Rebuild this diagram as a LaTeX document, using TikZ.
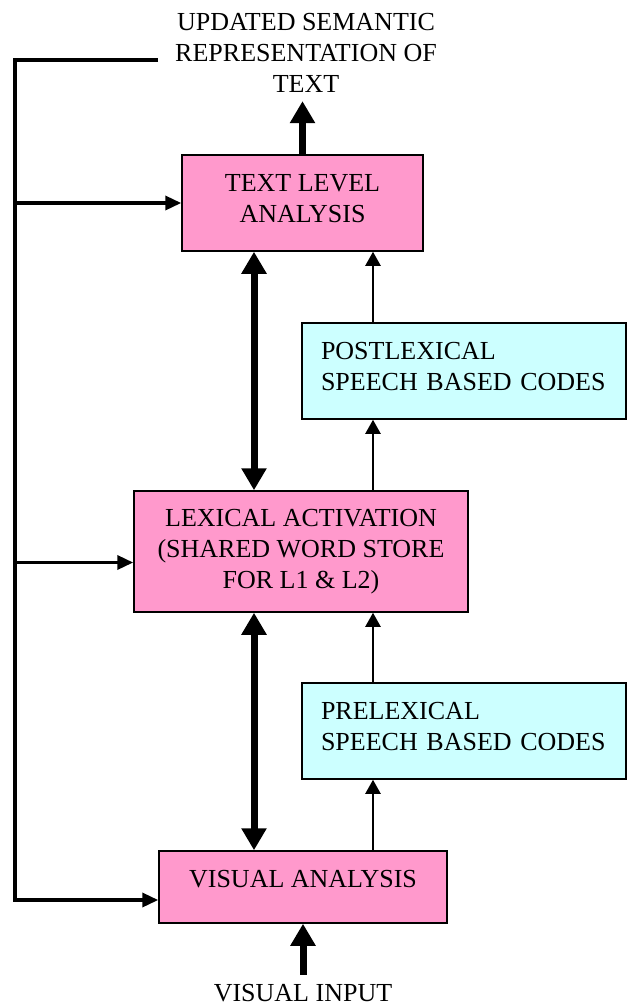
\documentclass[tikz,border=0pt]{standalone}
\usepackage{fontspec}
\setmainfont{Liberation Serif}
\usepackage{xcolor}
\usepackage{tikz}
\usetikzlibrary{arrows.meta}
\usetikzlibrary{calc}

\definecolor{pinkbox}{RGB}{255,153,204}
\definecolor{cyanbox}{RGB}{204,255,255}

\begin{document}
\begin{tikzpicture}[x=1pt,y=-1pt,auto,font=\fontsize{26}{31}\selectfont]
  \tikzstyle{stage}=[draw, line width=1.5pt, fill=pinkbox, align=center]
  \tikzstyle{code}=[draw, line width=1.5pt, fill=cyanbox, align=left, minimum height=96pt, text width=286pt, inner xsep=19pt, text depth=41pt]
  \tikzstyle{heavy}=[line width=7pt, -{Triangle[length=22pt,width=24pt]}]
  \tikzstyle{light}=[line width=2.2pt, -{Triangle[length=14pt,width=15pt]}]
  \tikzstyle{fb}=[line width=3.5pt, -{Triangle[length=16pt,width=14pt]}]
  \useasboundingbox (0,0) rectangle (628,1007);

  \node[stage, minimum width=241pt, minimum height=96pt, text depth=10pt] (tla) at (302.5,203) {TEXT LEVEL\\ANALYSIS};
  \node[stage, minimum width=334pt, minimum height=121pt] (lex) at (301,551.5) {LEXICAL ACTIVATION\\(SHARED WORD STORE\\FOR L1 \& L2)};
  \node[stage, minimum width=288pt, minimum height=72pt, text depth=16pt] (vis) at (303,887) {VISUAL ANALYSIS};
  \node[code] (post) at (464,371) {POSTLEXICAL\\SPEECH BASED CODES};
  \node[code] (pre) at (464,731) {PRELEXICAL\\SPEECH BASED CODES};
  \node[align=center] (out) at (306,53) {UPDATED SEMANTIC\\REPRESENTATION OF\\TEXT};
  \node (vin) at (303,993) {VISUAL INPUT};

  \coordinate (fbstart) at (158,60);
  \coordinate (fbtop) at (15,60);
  \coordinate (fbbot) at (15,900);
  \coordinate (dbl) at (254,0);
  \coordinate (thin) at (373,0);

  % feedback loop
  \draw[fb, line join=miter] (fbstart) -- (fbtop) -- (fbbot) -- (vis.west |- fbbot);
  \path[fb]
    (fbtop |- tla.west) edge (tla.west)
    ($(fbtop |- lex.west)+(0,11)$) edge ($(lex.west)+(0,11)$);

  % main route
  \path[heavy]
    (tla.north) edge[shorten >=5pt] (tla.north |- out.south)
    (vin.north) edge[shorten <=6pt] (vis.south);
  \path[heavy, {Triangle[length=22pt,width=24pt]}-{Triangle[length=22pt,width=24pt]}]
    (tla.south -| dbl) edge (lex.north -| dbl)
    (lex.south -| dbl) edge (vis.north -| dbl);

  % speech codes
  \path[light]
    (vis.north -| thin) edge (pre.south -| thin)
    (pre.north -| thin) edge (lex.south -| thin)
    (lex.north -| thin) edge (post.south -| thin)
    (post.north -| thin) edge (tla.south -| thin);
\end{tikzpicture}
\end{document}
